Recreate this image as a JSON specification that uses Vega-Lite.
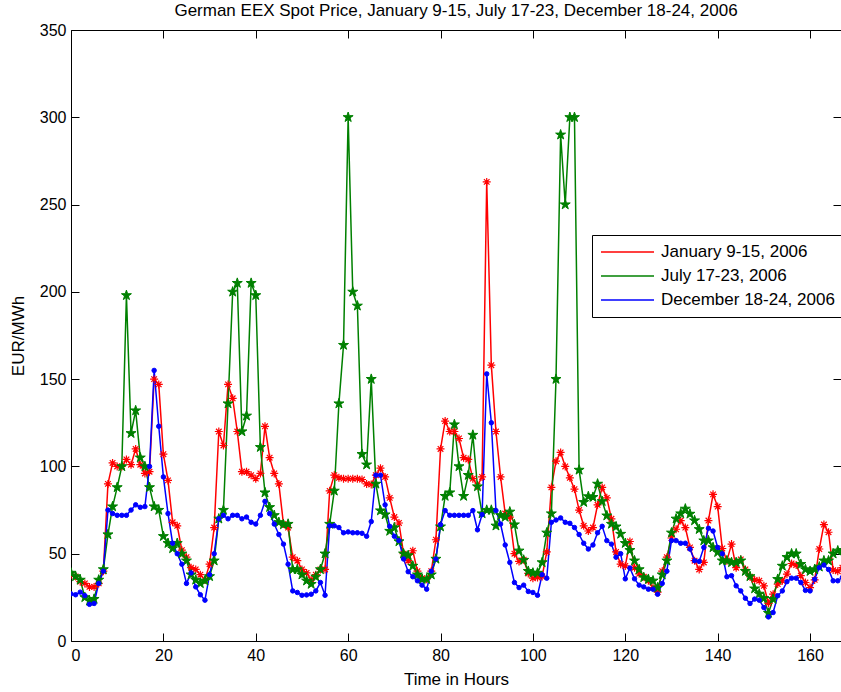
{
"$schema":"https://vega.github.io/schema/vega-lite/v6.json",
"width":770,"height":611,
"autosize":{"type":"none"},
"padding":{"left":71,"top":30,"right":0,"bottom":51},
"background":"white",
"title":{"text":"German EEX Spot Price, January 9-15, July 17-23, December 18-24, 2006","font":"Liberation Sans","fontSize":17,"fontWeight":"normal","color":"black","anchor":"middle","baseline":"alphabetic","offset":4,"dy":15},
"config":{"view":{"stroke":null},"axis":{"grid":false,"domainColor":"black","tickColor":"black","labelColor":"black","titleColor":"black","labelFont":"Liberation Sans","titleFont":"Liberation Sans","labelFontSize":16,"titleFontSize":17,"titleFontWeight":"normal","tickSize":-8,"domainWidth":1,"tickWidth":1}},
"datasets":{"d":[
{"series":"Jan","hour":0,"price":38},{"series":"Jan","hour":1,"price":37},{"series":"Jan","hour":2,"price":34},{"series":"Jan","hour":3,"price":33},{"series":"Jan","hour":4,"price":31},{"series":"Jan","hour":5,"price":31},{"series":"Jan","hour":6,"price":33},{"series":"Jan","hour":7,"price":40},{"series":"Jan","hour":8,"price":90},{"series":"Jan","hour":9,"price":102},
{"series":"Jan","hour":10,"price":100},{"series":"Jan","hour":11,"price":100},{"series":"Jan","hour":12,"price":104},{"series":"Jan","hour":13,"price":101},{"series":"Jan","hour":14,"price":110},{"series":"Jan","hour":15,"price":101},{"series":"Jan","hour":16,"price":96},{"series":"Jan","hour":17,"price":97},{"series":"Jan","hour":18,"price":150},{"series":"Jan","hour":19,"price":147},
{"series":"Jan","hour":20,"price":107},{"series":"Jan","hour":21,"price":92},{"series":"Jan","hour":22,"price":68},{"series":"Jan","hour":23,"price":66},{"series":"Jan","hour":24,"price":52},{"series":"Jan","hour":25,"price":48},{"series":"Jan","hour":26,"price":42},{"series":"Jan","hour":27,"price":41},{"series":"Jan","hour":28,"price":38},{"series":"Jan","hour":29,"price":35},
{"series":"Jan","hour":30,"price":44},{"series":"Jan","hour":31,"price":65},{"series":"Jan","hour":32,"price":120},{"series":"Jan","hour":33,"price":112},{"series":"Jan","hour":34,"price":147},{"series":"Jan","hour":35,"price":139},{"series":"Jan","hour":36,"price":120},{"series":"Jan","hour":37,"price":97},{"series":"Jan","hour":38,"price":97},{"series":"Jan","hour":39,"price":95},
{"series":"Jan","hour":40,"price":93},{"series":"Jan","hour":41,"price":96},{"series":"Jan","hour":42,"price":123},{"series":"Jan","hour":43,"price":105},{"series":"Jan","hour":44,"price":96},{"series":"Jan","hour":45,"price":90},{"series":"Jan","hour":46,"price":67},{"series":"Jan","hour":47,"price":65},{"series":"Jan","hour":48,"price":48},{"series":"Jan","hour":49,"price":46},
{"series":"Jan","hour":50,"price":41},{"series":"Jan","hour":51,"price":39},{"series":"Jan","hour":52,"price":35},{"series":"Jan","hour":53,"price":38},{"series":"Jan","hour":54,"price":41},{"series":"Jan","hour":55,"price":41},{"series":"Jan","hour":56,"price":86},{"series":"Jan","hour":57,"price":95},{"series":"Jan","hour":58,"price":93.5},{"series":"Jan","hour":59,"price":93},
{"series":"Jan","hour":60,"price":93},{"series":"Jan","hour":61,"price":93},{"series":"Jan","hour":62,"price":93},{"series":"Jan","hour":63,"price":92.5},{"series":"Jan","hour":64,"price":90},{"series":"Jan","hour":65,"price":89.7},{"series":"Jan","hour":66,"price":95},{"series":"Jan","hour":67,"price":99},{"series":"Jan","hour":68,"price":94},{"series":"Jan","hour":69,"price":82},
{"series":"Jan","hour":70,"price":71},{"series":"Jan","hour":71,"price":67.6},{"series":"Jan","hour":72,"price":50},{"series":"Jan","hour":73,"price":46},{"series":"Jan","hour":74,"price":51.7},{"series":"Jan","hour":75,"price":40},{"series":"Jan","hour":76,"price":36},{"series":"Jan","hour":77,"price":35.4},{"series":"Jan","hour":78,"price":40},{"series":"Jan","hour":79,"price":58},
{"series":"Jan","hour":80,"price":110},{"series":"Jan","hour":81,"price":126},{"series":"Jan","hour":82,"price":120},{"series":"Jan","hour":83,"price":120},{"series":"Jan","hour":84,"price":116},{"series":"Jan","hour":85,"price":105},{"series":"Jan","hour":86,"price":104},{"series":"Jan","hour":87,"price":93},{"series":"Jan","hour":88,"price":89},{"series":"Jan","hour":89,"price":94},
{"series":"Jan","hour":90,"price":263},{"series":"Jan","hour":91,"price":158},{"series":"Jan","hour":92,"price":120},{"series":"Jan","hour":93,"price":94},{"series":"Jan","hour":94,"price":73},{"series":"Jan","hour":95,"price":71},{"series":"Jan","hour":96,"price":50},{"series":"Jan","hour":97,"price":45.6},{"series":"Jan","hour":98,"price":46.6},{"series":"Jan","hour":99,"price":38.7},
{"series":"Jan","hour":100,"price":36},{"series":"Jan","hour":101,"price":36.4},{"series":"Jan","hour":102,"price":37},{"series":"Jan","hour":103,"price":51},{"series":"Jan","hour":104,"price":88},{"series":"Jan","hour":105,"price":103},{"series":"Jan","hour":106,"price":108},{"series":"Jan","hour":107,"price":100},{"series":"Jan","hour":108,"price":93.5},{"series":"Jan","hour":109,"price":87},
{"series":"Jan","hour":110,"price":75},{"series":"Jan","hour":111,"price":66},{"series":"Jan","hour":112,"price":63},{"series":"Jan","hour":113,"price":65},{"series":"Jan","hour":114,"price":78},{"series":"Jan","hour":115,"price":88},{"series":"Jan","hour":116,"price":82},{"series":"Jan","hour":117,"price":70},{"series":"Jan","hour":118,"price":51},{"series":"Jan","hour":119,"price":44},
{"series":"Jan","hour":120,"price":43},{"series":"Jan","hour":121,"price":57},{"series":"Jan","hour":122,"price":42},{"series":"Jan","hour":123,"price":38.5},{"series":"Jan","hour":124,"price":36.8},{"series":"Jan","hour":125,"price":34.5},{"series":"Jan","hour":126,"price":30.6},{"series":"Jan","hour":127,"price":28},{"series":"Jan","hour":128,"price":40},{"series":"Jan","hour":129,"price":48},
{"series":"Jan","hour":130,"price":59},{"series":"Jan","hour":131,"price":64},{"series":"Jan","hour":132,"price":69},{"series":"Jan","hour":133,"price":65},{"series":"Jan","hour":134,"price":53.6},{"series":"Jan","hour":135,"price":46},{"series":"Jan","hour":136,"price":41},{"series":"Jan","hour":137,"price":45},{"series":"Jan","hour":138,"price":69},{"series":"Jan","hour":139,"price":84},
{"series":"Jan","hour":140,"price":77},{"series":"Jan","hour":141,"price":53},{"series":"Jan","hour":142,"price":46},{"series":"Jan","hour":143,"price":55.5},{"series":"Jan","hour":144,"price":42},{"series":"Jan","hour":145,"price":46.7},{"series":"Jan","hour":146,"price":41},{"series":"Jan","hour":147,"price":36.8},{"series":"Jan","hour":148,"price":35},{"series":"Jan","hour":149,"price":34.5},
{"series":"Jan","hour":150,"price":31.6},{"series":"Jan","hour":151,"price":21.6},{"series":"Jan","hour":152,"price":26.8},{"series":"Jan","hour":153,"price":32.6},{"series":"Jan","hour":154,"price":34.5},{"series":"Jan","hour":155,"price":38.3},{"series":"Jan","hour":156,"price":44.4},{"series":"Jan","hour":157,"price":43.5},{"series":"Jan","hour":158,"price":37.4},{"series":"Jan","hour":159,"price":33.5},
{"series":"Jan","hour":160,"price":30.6},{"series":"Jan","hour":161,"price":35},{"series":"Jan","hour":162,"price":52.7},{"series":"Jan","hour":163,"price":66.7},{"series":"Jan","hour":164,"price":62.3},{"series":"Jan","hour":165,"price":40.6},{"series":"Jan","hour":166,"price":40},{"series":"Jan","hour":167,"price":42},
{"series":"Jul","hour":0,"price":39},{"series":"Jul","hour":1,"price":37},{"series":"Jul","hour":2,"price":35},{"series":"Jul","hour":3,"price":25},{"series":"Jul","hour":4,"price":23},{"series":"Jul","hour":5,"price":24},{"series":"Jul","hour":6,"price":35},{"series":"Jul","hour":7,"price":41},{"series":"Jul","hour":8,"price":61},{"series":"Jul","hour":9,"price":77},
{"series":"Jul","hour":10,"price":88},{"series":"Jul","hour":11,"price":100},{"series":"Jul","hour":12,"price":198},{"series":"Jul","hour":13,"price":119},{"series":"Jul","hour":14,"price":132},{"series":"Jul","hour":15,"price":105},{"series":"Jul","hour":16,"price":100},{"series":"Jul","hour":17,"price":88},{"series":"Jul","hour":18,"price":77},{"series":"Jul","hour":19,"price":75},
{"series":"Jul","hour":20,"price":60},{"series":"Jul","hour":21,"price":56},{"series":"Jul","hour":22,"price":53},{"series":"Jul","hour":23,"price":56},{"series":"Jul","hour":24,"price":50},{"series":"Jul","hour":25,"price":46},{"series":"Jul","hour":26,"price":38},{"series":"Jul","hour":27,"price":35},{"series":"Jul","hour":28,"price":33},{"series":"Jul","hour":29,"price":34.5},
{"series":"Jul","hour":30,"price":37},{"series":"Jul","hour":31,"price":46},{"series":"Jul","hour":32,"price":70},{"series":"Jul","hour":33,"price":75},{"series":"Jul","hour":34,"price":136},{"series":"Jul","hour":35,"price":200},{"series":"Jul","hour":36,"price":205},{"series":"Jul","hour":37,"price":120},{"series":"Jul","hour":38,"price":129},{"series":"Jul","hour":39,"price":205},
{"series":"Jul","hour":40,"price":198},{"series":"Jul","hour":41,"price":111},{"series":"Jul","hour":42,"price":85},{"series":"Jul","hour":43,"price":76.6},{"series":"Jul","hour":44,"price":72},{"series":"Jul","hour":45,"price":68},{"series":"Jul","hour":46,"price":66.7},{"series":"Jul","hour":47,"price":67},{"series":"Jul","hour":48,"price":41},{"series":"Jul","hour":49,"price":41},
{"series":"Jul","hour":50,"price":38},{"series":"Jul","hour":51,"price":34.5},{"series":"Jul","hour":52,"price":32.6},{"series":"Jul","hour":53,"price":36.8},{"series":"Jul","hour":54,"price":41},{"series":"Jul","hour":55,"price":50},{"series":"Jul","hour":56,"price":67},{"series":"Jul","hour":57,"price":86},{"series":"Jul","hour":58,"price":136},{"series":"Jul","hour":59,"price":169.5},
{"series":"Jul","hour":60,"price":300},{"series":"Jul","hour":61,"price":200},{"series":"Jul","hour":62,"price":192},{"series":"Jul","hour":63,"price":107},{"series":"Jul","hour":64,"price":101},{"series":"Jul","hour":65,"price":150},{"series":"Jul","hour":66,"price":90},{"series":"Jul","hour":67,"price":74.7},{"series":"Jul","hour":68,"price":72.4},{"series":"Jul","hour":69,"price":63},
{"series":"Jul","hour":70,"price":65},{"series":"Jul","hour":71,"price":57},{"series":"Jul","hour":72,"price":50},{"series":"Jul","hour":73,"price":49},{"series":"Jul","hour":74,"price":43},{"series":"Jul","hour":75,"price":38},{"series":"Jul","hour":76,"price":35.4},{"series":"Jul","hour":77,"price":35.4},{"series":"Jul","hour":78,"price":38},{"series":"Jul","hour":79,"price":47},
{"series":"Jul","hour":80,"price":65.5},{"series":"Jul","hour":81,"price":83},{"series":"Jul","hour":82,"price":85},{"series":"Jul","hour":83,"price":124},{"series":"Jul","hour":84,"price":100},{"series":"Jul","hour":85,"price":83},{"series":"Jul","hour":86,"price":95},{"series":"Jul","hour":87,"price":118},{"series":"Jul","hour":88,"price":88.5},{"series":"Jul","hour":89,"price":73},
{"series":"Jul","hour":90,"price":75},{"series":"Jul","hour":91,"price":75},{"series":"Jul","hour":92,"price":66},{"series":"Jul","hour":93,"price":72},{"series":"Jul","hour":94,"price":71},{"series":"Jul","hour":95,"price":74},{"series":"Jul","hour":96,"price":66.7},{"series":"Jul","hour":97,"price":51.7},{"series":"Jul","hour":98,"price":46.4},{"series":"Jul","hour":99,"price":40},
{"series":"Jul","hour":100,"price":39},{"series":"Jul","hour":101,"price":39},{"series":"Jul","hour":102,"price":45},{"series":"Jul","hour":103,"price":62},{"series":"Jul","hour":104,"price":73},{"series":"Jul","hour":105,"price":150},{"series":"Jul","hour":106,"price":290},{"series":"Jul","hour":107,"price":250},{"series":"Jul","hour":108,"price":300},{"series":"Jul","hour":109,"price":300},
{"series":"Jul","hour":110,"price":98},{"series":"Jul","hour":111,"price":79.5},{"series":"Jul","hour":112,"price":82.8},{"series":"Jul","hour":113,"price":82.4},{"series":"Jul","hour":114,"price":90},{"series":"Jul","hour":115,"price":80},{"series":"Jul","hour":116,"price":71.8},{"series":"Jul","hour":117,"price":67},{"series":"Jul","hour":118,"price":65.5},{"series":"Jul","hour":119,"price":61.3},
{"series":"Jul","hour":120,"price":56},{"series":"Jul","hour":121,"price":52},{"series":"Jul","hour":122,"price":46},{"series":"Jul","hour":123,"price":41},{"series":"Jul","hour":124,"price":36.4},{"series":"Jul","hour":125,"price":35.4},{"series":"Jul","hour":126,"price":34.5},{"series":"Jul","hour":127,"price":30.6},{"series":"Jul","hour":128,"price":38},{"series":"Jul","hour":129,"price":46},
{"series":"Jul","hour":130,"price":62},{"series":"Jul","hour":131,"price":70},{"series":"Jul","hour":132,"price":73},{"series":"Jul","hour":133,"price":75.7},{"series":"Jul","hour":134,"price":72.8},{"series":"Jul","hour":135,"price":69},{"series":"Jul","hour":136,"price":64},{"series":"Jul","hour":137,"price":57.5},{"series":"Jul","hour":138,"price":57.5},{"series":"Jul","hour":139,"price":53.6},
{"series":"Jul","hour":140,"price":50.8},{"series":"Jul","hour":141,"price":46},{"series":"Jul","hour":142,"price":46},{"series":"Jul","hour":143,"price":45},{"series":"Jul","hour":144,"price":45},{"series":"Jul","hour":145,"price":46},{"series":"Jul","hour":146,"price":40},{"series":"Jul","hour":147,"price":37},{"series":"Jul","hour":148,"price":30},{"series":"Jul","hour":149,"price":27},
{"series":"Jul","hour":150,"price":24.5},{"series":"Jul","hour":151,"price":16},{"series":"Jul","hour":152,"price":24},{"series":"Jul","hour":153,"price":35.4},{"series":"Jul","hour":154,"price":43},{"series":"Jul","hour":155,"price":48},{"series":"Jul","hour":156,"price":50},{"series":"Jul","hour":157,"price":50},{"series":"Jul","hour":158,"price":44},{"series":"Jul","hour":159,"price":41},
{"series":"Jul","hour":160,"price":40},{"series":"Jul","hour":161,"price":41},{"series":"Jul","hour":162,"price":42.5},{"series":"Jul","hour":163,"price":46},{"series":"Jul","hour":164,"price":46},{"series":"Jul","hour":165,"price":50},{"series":"Jul","hour":166,"price":51.7},{"series":"Jul","hour":167,"price":52},
{"series":"Dec","hour":0,"price":27},{"series":"Dec","hour":1,"price":26.5},{"series":"Dec","hour":2,"price":28},{"series":"Dec","hour":3,"price":26},{"series":"Dec","hour":4,"price":21},{"series":"Dec","hour":5,"price":21.5},{"series":"Dec","hour":6,"price":33},{"series":"Dec","hour":7,"price":40},{"series":"Dec","hour":8,"price":75},{"series":"Dec","hour":9,"price":73},
{"series":"Dec","hour":10,"price":72},{"series":"Dec","hour":11,"price":72},{"series":"Dec","hour":12,"price":72},{"series":"Dec","hour":13,"price":75},{"series":"Dec","hour":14,"price":78},{"series":"Dec","hour":15,"price":76.6},{"series":"Dec","hour":16,"price":77},{"series":"Dec","hour":17,"price":100},{"series":"Dec","hour":18,"price":155},{"series":"Dec","hour":19,"price":123},
{"series":"Dec","hour":20,"price":94},{"series":"Dec","hour":21,"price":73},{"series":"Dec","hour":22,"price":56},{"series":"Dec","hour":23,"price":50},{"series":"Dec","hour":24,"price":44},{"series":"Dec","hour":25,"price":33},{"series":"Dec","hour":26,"price":39},{"series":"Dec","hour":27,"price":31},{"series":"Dec","hour":28,"price":26.5},{"series":"Dec","hour":29,"price":23.4},
{"series":"Dec","hour":30,"price":38},{"series":"Dec","hour":31,"price":50},{"series":"Dec","hour":32,"price":70},{"series":"Dec","hour":33,"price":72},{"series":"Dec","hour":34,"price":70},{"series":"Dec","hour":35,"price":72},{"series":"Dec","hour":36,"price":72},{"series":"Dec","hour":37,"price":70},{"series":"Dec","hour":38,"price":71},{"series":"Dec","hour":39,"price":68},
{"series":"Dec","hour":40,"price":67},{"series":"Dec","hour":41,"price":72},{"series":"Dec","hour":42,"price":80},{"series":"Dec","hour":43,"price":73},{"series":"Dec","hour":44,"price":67},{"series":"Dec","hour":45,"price":61},{"series":"Dec","hour":46,"price":55.5},{"series":"Dec","hour":47,"price":44},{"series":"Dec","hour":48,"price":28.7},{"series":"Dec","hour":49,"price":27.8},
{"series":"Dec","hour":50,"price":26.2},{"series":"Dec","hour":51,"price":26.4},{"series":"Dec","hour":52,"price":26.8},{"series":"Dec","hour":53,"price":28.7},{"series":"Dec","hour":54,"price":33.5},{"series":"Dec","hour":55,"price":26.2},{"series":"Dec","hour":56,"price":66},{"series":"Dec","hour":57,"price":66},{"series":"Dec","hour":58,"price":65},{"series":"Dec","hour":59,"price":62},
{"series":"Dec","hour":60,"price":62.5},{"series":"Dec","hour":61,"price":62},{"series":"Dec","hour":62,"price":62},{"series":"Dec","hour":63,"price":61.7},{"series":"Dec","hour":64,"price":60},{"series":"Dec","hour":65,"price":68.4},{"series":"Dec","hour":66,"price":95},{"series":"Dec","hour":67,"price":95},{"series":"Dec","hour":68,"price":78},{"series":"Dec","hour":69,"price":65.7},
{"series":"Dec","hour":70,"price":60},{"series":"Dec","hour":71,"price":57.5},{"series":"Dec","hour":72,"price":47},{"series":"Dec","hour":73,"price":39.7},{"series":"Dec","hour":74,"price":36.8},{"series":"Dec","hour":75,"price":34.5},{"series":"Dec","hour":76,"price":32},{"series":"Dec","hour":77,"price":29.7},{"series":"Dec","hour":78,"price":40},{"series":"Dec","hour":79,"price":47},
{"series":"Dec","hour":80,"price":66.7},{"series":"Dec","hour":81,"price":74.7},{"series":"Dec","hour":82,"price":72},{"series":"Dec","hour":83,"price":72},{"series":"Dec","hour":84,"price":72},{"series":"Dec","hour":85,"price":72},{"series":"Dec","hour":86,"price":72},{"series":"Dec","hour":87,"price":74.7},{"series":"Dec","hour":88,"price":63.7},{"series":"Dec","hour":89,"price":72.4},
{"series":"Dec","hour":90,"price":153},{"series":"Dec","hour":91,"price":125},{"series":"Dec","hour":92,"price":74.7},{"series":"Dec","hour":93,"price":67},{"series":"Dec","hour":94,"price":55},{"series":"Dec","hour":95,"price":45},{"series":"Dec","hour":96,"price":33.5},{"series":"Dec","hour":97,"price":30.6},{"series":"Dec","hour":98,"price":32},{"series":"Dec","hour":99,"price":28.4},
{"series":"Dec","hour":100,"price":27.8},{"series":"Dec","hour":101,"price":26.2},{"series":"Dec","hour":102,"price":38},{"series":"Dec","hour":103,"price":36},{"series":"Dec","hour":104,"price":68},{"series":"Dec","hour":105,"price":69.3},{"series":"Dec","hour":106,"price":70.5},{"series":"Dec","hour":107,"price":68},{"series":"Dec","hour":108,"price":67.4},{"series":"Dec","hour":109,"price":65},
{"series":"Dec","hour":110,"price":61},{"series":"Dec","hour":111,"price":56},{"series":"Dec","hour":112,"price":52.7},{"series":"Dec","hour":113,"price":55},{"series":"Dec","hour":114,"price":62},{"series":"Dec","hour":115,"price":65.7},{"series":"Dec","hour":116,"price":57.5},{"series":"Dec","hour":117,"price":55.5},{"series":"Dec","hour":118,"price":48},{"series":"Dec","hour":119,"price":50},
{"series":"Dec","hour":120,"price":35.6},{"series":"Dec","hour":121,"price":41.8},{"series":"Dec","hour":122,"price":35.6},{"series":"Dec","hour":123,"price":32},{"series":"Dec","hour":124,"price":31},{"series":"Dec","hour":125,"price":29.7},{"series":"Dec","hour":126,"price":29.7},{"series":"Dec","hour":127,"price":26.8},{"series":"Dec","hour":128,"price":33},{"series":"Dec","hour":129,"price":40},
{"series":"Dec","hour":130,"price":57.5},{"series":"Dec","hour":131,"price":57.5},{"series":"Dec","hour":132,"price":56},{"series":"Dec","hour":133,"price":56},{"series":"Dec","hour":134,"price":52.7},{"series":"Dec","hour":135,"price":46},{"series":"Dec","hour":136,"price":45.6},{"series":"Dec","hour":137,"price":53.6},{"series":"Dec","hour":138,"price":64.6},{"series":"Dec","hour":139,"price":63},
{"series":"Dec","hour":140,"price":53.6},{"series":"Dec","hour":141,"price":50},{"series":"Dec","hour":142,"price":36.8},{"series":"Dec","hour":143,"price":37.4},{"series":"Dec","hour":144,"price":31.6},{"series":"Dec","hour":145,"price":28.7},{"series":"Dec","hour":146,"price":24.5},{"series":"Dec","hour":147,"price":21.5},{"series":"Dec","hour":148,"price":24},{"series":"Dec","hour":149,"price":23.4},
{"series":"Dec","hour":150,"price":19.2},{"series":"Dec","hour":151,"price":13.8},{"series":"Dec","hour":152,"price":16.3},{"series":"Dec","hour":153,"price":25.9},{"series":"Dec","hour":154,"price":28.7},{"series":"Dec","hour":155,"price":34},{"series":"Dec","hour":156,"price":36},{"series":"Dec","hour":157,"price":36},{"series":"Dec","hour":158,"price":33.5},{"series":"Dec","hour":159,"price":29},
{"series":"Dec","hour":160,"price":28.7},{"series":"Dec","hour":161,"price":35.4},{"series":"Dec","hour":162,"price":42},{"series":"Dec","hour":163,"price":43.5},{"series":"Dec","hour":164,"price":41},{"series":"Dec","hour":165,"price":34.5},{"series":"Dec","hour":166,"price":34.5},{"series":"Dec","hour":167,"price":36.4}
]},
"data":{"name":"d"},
"layer":[
{"mark":{"type":"line","strokeWidth":1.5,"clip":true},
 "encoding":{
  "x":{"field":"hour","type":"quantitative","scale":{"domain":[0,166.7],"nice":false,"zero":false},"axis":{"orient":"bottom","values":[0,20,40,60,80,100,120,140,160],"title":"Time in Hours","labelPadding":14,"titlePadding":8}},
  "y":{"field":"price","type":"quantitative","scale":{"domain":[0,350],"nice":false},"axis":{"orient":"left","values":[0,50,100,150,200,250,300,350],"title":"EUR/MWh","labelPadding":13,"titlePadding":12}},
  "color":{"field":"series","type":"nominal","scale":{"domain":["Jan","Jul","Dec"],"range":["#ff0000","#008000","#0000ff"]},
   "legend":{"orient":"none","legendX":521,"legendY":205,"title":null,"labelFont":"Liberation Sans","labelFontSize":17,"labelColor":"black","labelLimit":400,"strokeColor":"black","fillColor":"white","padding":8,"cornerRadius":0,"symbolType":"stroke","symbolSize":2809,"symbolStrokeWidth":1.5,"symbolOpacity":1,"clipHeight":18,"rowPadding":6,"labelOffset":6,"symbolOffset":0,
    "labelExpr":"datum.value === 'Jan' ? 'January 9-15, 2006' : datum.value === 'Jul' ? 'July 17-23, 2006' : 'December 18-24, 2006'"}}
 }},
{"transform":[{"filter":"datum.series === 'Jan'"}],
 "mark":{"type":"point","shape":"M0,-1L0,1M-1,0L1,0M-0.7,-0.7L0.7,0.7M-0.7,0.7L0.7,-0.7","size":64,"filled":false,"color":"#ff0000","strokeWidth":1.2,"opacity":1,"clip":true},
 "encoding":{
  "x":{"field":"hour","type":"quantitative","axis":{"orient":"top","labels":false,"title":null,"minExtent":0,"maxExtent":0,"values":[0,20,40,60,80,100,120,140,160]}},
  "y":{"field":"price","type":"quantitative","axis":{"orient":"right","labels":false,"title":null,"domain":false,"minExtent":0,"maxExtent":0,"values":[0,50,100,150,200,250,300,350]}}
 }},
{"transform":[{"filter":"datum.series === 'Jul'"}],
 "mark":{"type":"point","shape":"M0,-1L0.225,-0.309L0.951,-0.309L0.363,0.118L0.588,0.809L0,0.382L-0.588,0.809L-0.363,0.118L-0.951,-0.309L-0.225,-0.309Z","size":110,"filled":true,"color":"#008000","stroke":"#008000","strokeWidth":1,"opacity":1,"clip":true},
 "encoding":{
  "x":{"field":"hour","type":"quantitative","axis":null},
  "y":{"field":"price","type":"quantitative","axis":null}
 }},
{"transform":[{"filter":"datum.series === 'Dec'"}],
 "mark":{"type":"point","shape":"circle","size":20,"filled":true,"color":"#0000ff","stroke":"#0000ff","strokeWidth":1,"opacity":1,"clip":true},
 "encoding":{
  "x":{"field":"hour","type":"quantitative","axis":null},
  "y":{"field":"price","type":"quantitative","axis":null}
 }}
],
"resolve":{"axis":{"x":"independent","y":"independent"}}
}
